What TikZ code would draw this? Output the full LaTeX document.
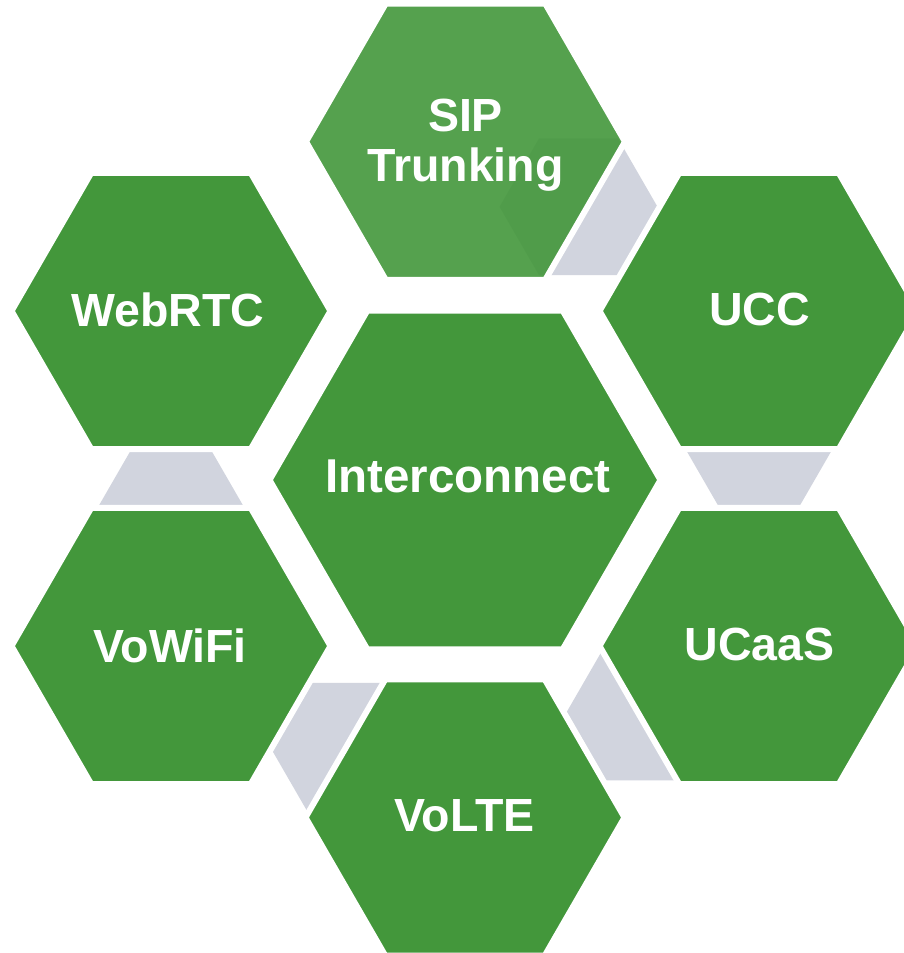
\documentclass[tikz,border=0pt]{standalone}
\usepackage{fontspec}
\setmainfont{Liberation Sans}

\definecolor{hexgreen}{RGB}{67,151,59}
\definecolor{linkgray}{RGB}{209,212,222}

\tikzset{
  hexfill/.style={fill=hexgreen, draw=white, line width=6pt, line join=miter},
  linkhex/.style={fill=linkgray},
  hexlabel/.style={text=white, font=\bfseries\fontsize{46.5}{50}\selectfont,
                   align=center, inner sep=0pt},
  biglabel/.style={hexlabel, font=\bfseries\fontsize{47.5}{50}\selectfont},
}

% flat-topped hexagon: centre (#1,#2), circumradius #3
\newcommand\hexagonpath[3]{({#1+#3},{#2}) -- ({#1+0.5*#3},{#2+0.8660254*#3})
  -- ({#1-0.5*#3},{#2+0.8660254*#3}) -- ({#1-#3},{#2})
  -- ({#1-0.5*#3},{#2-0.8660254*#3}) -- ({#1+0.5*#3},{#2-0.8660254*#3}) -- cycle}

\begin{document}
\begin{tikzpicture}[x=1pt,y=-1pt]
  \clip (0,0) rectangle (904,953);
  \fill[white] (0,0) rectangle (904,953);

  % small grey link hexagons, sitting behind the ring
  \fill[linkhex] \hexagonpath{578.5}{206.8}{79};
  \fill[linkhex] \hexagonpath{759}{439.5}{79};
  \fill[linkhex] \hexagonpath{645.7}{712}{79};
  \fill[linkhex] \hexagonpath{351.7}{751.4}{79};
  \fill[linkhex] \hexagonpath{171}{517.5}{79};

  % outer ring of hexagons
  \path[hexfill] \hexagonpath{171}{311}{159.5};
  \path[hexfill] \hexagonpath{759}{311}{159.5};
  \path[hexfill] \hexagonpath{171}{646}{159.5};
  \path[hexfill] \hexagonpath{759}{646}{159.5};
  \path[hexfill] \hexagonpath{465}{817.5}{159.5};
  \path[hexfill, fill opacity=0.9] \hexagonpath{465.5}{141.7}{159.5};

  % central hexagon
  \path[hexfill] \hexagonpath{465}{480}{195.5};

  % labels
  \node[hexlabel] (sip)     at (465.5,144.7) {SIP\\Trunking};
  \node[hexlabel] (webrtc)  at (168,309.5)   {WebRTC};
  \node[hexlabel] (ucc)     at (759.5,309.5) {UCC};
  \node[hexlabel] (vowifi)  at (170,645.8)   {VoWiFi};
  \node[hexlabel] (ucaas)   at (759.5,644)   {UCaaS};
  \node[hexlabel] (volte)   at (464.5,815.8) {VoLTE};
  \node[biglabel] (interc)  at (468,476)     {Interconnect};
\end{tikzpicture}
\end{document}
